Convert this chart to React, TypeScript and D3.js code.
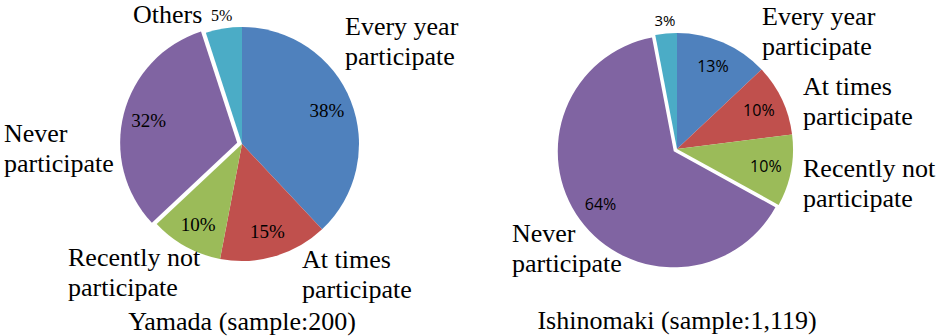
import React from "react";
import * as d3 from "d3";

// Survey answers shared by both towns
const categoryLines: string[][] = [
  ["Every year", "participate"],
  ["At times", "participate"],
  ["Recently not", "participate"],
  ["Never", "participate"],
  ["Others"],
];

const yamadaValues = [38, 15, 10, 32, 5];
const ishinomakiValues = [13, 10, 10, 64, 3];

const yamadaTitle = "Yamada (sample:200)";
const ishinomakiTitle = "Ishinomaki (sample:1,119)";

const sliceColors = ["#4F81BD", "#C0504D", "#9BBB59", "#8064A2", "#4BACC6"];

const EXPLODED = 3; // "Never participate" is pulled out of each pie
const OUTSIDE = 4; // "Others" percentage sits outside the pie

const W = 939;
const H = 336;
const SERIF = "Liberation Serif";
const SANS = "Open Sans";

type PieSpec = {
  values: number[];
  title: string;
  cx: number;
  cy: number;
  r: number;
  explode: number;
  pctFont: string;
  pctSize: number;
  outsideSize: number;
  labelPos: [number, number][];
  titleY: number;
};

const pies: PieSpec[] = [
  {
    values: yamadaValues,
    title: yamadaTitle,
    cx: 242,
    cy: 144,
    r: 117,
    explode: 5,
    pctFont: SERIF,
    pctSize: 19,
    outsideSize: 16,
    labelPos: [
      [345, 35],
      [302, 268],
      [68, 266],
      [4, 142],
      [133, 23],
    ],
    titleY: 330,
  },
  {
    values: ishinomakiValues,
    title: ishinomakiTitle,
    cx: 677,
    cy: 149,
    r: 116,
    explode: 4,
    pctFont: SANS,
    pctSize: 16,
    outsideSize: 15,
    labelPos: [
      [762, 25],
      [803, 95],
      [803, 177],
      [512, 242],
      [-1, -1],
    ],
    titleY: 329,
  },
];

function Pie({ spec }: { spec: PieSpec }) {
  const arcs = d3
    .pie<number>()
    .sort(null)
    .value((d) => d)
    .startAngle(0)
    .endAngle(2 * Math.PI)(spec.values);
  const slice = d3.arc<d3.PieArcDatum<number>>().innerRadius(0).outerRadius(spec.r);
  const inner = d3
    .arc<d3.PieArcDatum<number>>()
    .innerRadius(spec.r * 0.78)
    .outerRadius(spec.r * 0.78);
  const outer = d3
    .arc<d3.PieArcDatum<number>>()
    .innerRadius(spec.r * 1.11)
    .outerRadius(spec.r * 1.11);

  const shift = (a: d3.PieArcDatum<number>, i: number): [number, number] => {
    if (i !== EXPLODED) return [0, 0];
    const mid = (a.startAngle + a.endAngle) / 2;
    return [Math.sin(mid) * spec.explode, -Math.cos(mid) * spec.explode];
  };

  return (
    <g>
      <g transform={`translate(${spec.cx},${spec.cy})`}>
        {arcs.map((a, i) => {
          const [dx, dy] = shift(a, i);
          return (
            <path
              key={i}
              d={slice(a) || ""}
              fill={sliceColors[i]}
              transform={`translate(${dx},${dy})`}
            />
          );
        })}
        {arcs.map((a, i) => {
          const [dx, dy] = shift(a, i);
          const onOut = i === OUTSIDE;
          const [x, y] = onOut ? outer.centroid(a) : inner.centroid(a);
          return (
            <text
              key={"p" + i}
              x={x + dx}
              y={y + dy}
              dy="0.35em"
              textAnchor="middle"
              style={{ fontFamily: spec.pctFont, fontSize: onOut ? spec.outsideSize : spec.pctSize }}
              fill="#000"
            >
              {`${spec.values[i]}%`}
            </text>
          );
        })}
      </g>
      {categoryLines.map((lines, i) => {
        const [x, y] = spec.labelPos[i];
        if (x < 0) return null;
        return (
          <text key={"c" + i} x={x} y={y} style={{ fontFamily: SERIF, fontSize: 26 }} fill="#000">
            {lines.map((ln, j) => (
              <tspan key={j} x={x} y={y + j * 30}>
                {ln}
              </tspan>
            ))}
          </text>
        );
      })}
      <text
        x={spec.cx}
        y={spec.titleY}
        textAnchor="middle"
        style={{ fontFamily: SERIF, fontSize: 26 }}
        fill="#000"
      >
        {spec.title}
      </text>
    </g>
  );
}

export default function App() {
  return (
    <svg
      width={W}
      height={H}
      viewBox={`0 0 ${W} ${H}`}
      style={{ position: "absolute", left: 0, top: 0, background: "#fff" }}
    >
      <rect width={W} height={H} fill="#fff" />
      {pies.map((p, i) => (
        <Pie key={i} spec={p} />
      ))}
    </svg>
  );
}
